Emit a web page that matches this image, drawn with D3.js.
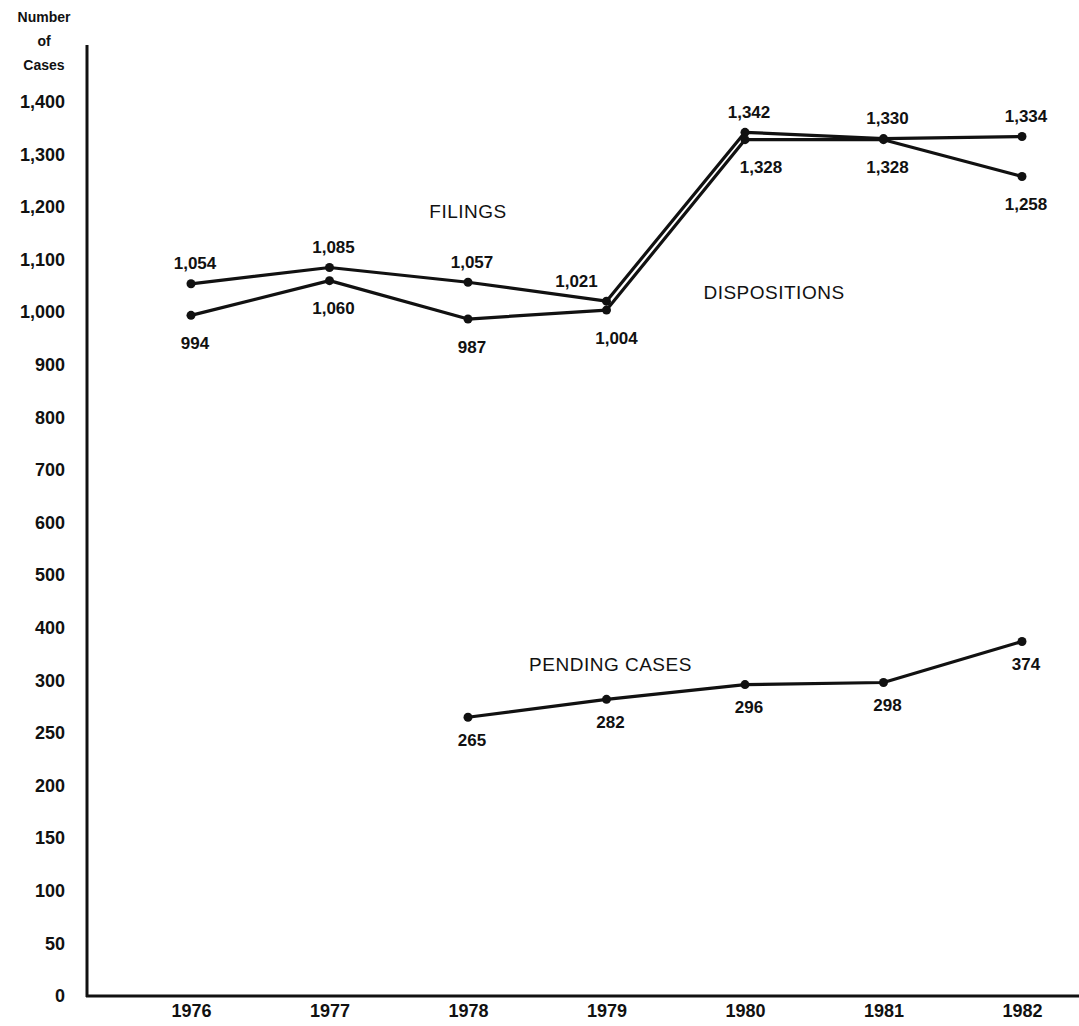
<!DOCTYPE html>
<html>
<head>
<meta charset="utf-8">
<script src="https://cdn.jsdelivr.net/npm/d3@7"></script>
<style>
  body { margin: 0; background: #fff; }
  text { font-family: "Liberation Sans", Arial, sans-serif; fill: #111; }
</style>
</head>
<body>
<div id="chart"></div>
<script>
var years = [1976, 1977, 1978, 1979, 1980, 1981, 1982];
var filings = [1054, 1085, 1057, 1021, 1342, 1330, 1334];
var dispositions = [994, 1060, 987, 1004, 1328, 1328, 1258];
var pendingYears = [1978, 1979, 1980, 1981, 1982];
var pending = [265, 282, 296, 298, 374];
var yTicks = [0, 50, 100, 150, 200, 250, 300, 400, 500, 600, 700, 800, 900, 1000, 1100, 1200, 1300, 1400];

var width = 1079, height = 1026;

var svg = d3.select("#chart").append("svg")
    .attr("width", width)
    .attr("height", height);

var x = d3.scalePoint()
    .domain(years)
    .range([191, 1022]);

// axis is broken: 0-300 by 50, then 300-1400 by 100, same spacing
var y = d3.scaleLinear()
    .domain([0, 300, 1400])
    .range([996, 680.4, 101.8]);

var fmt = d3.format(",");

// y axis
var yAxis = svg.append("g")
    .attr("transform", "translate(87,0)")
    .call(d3.axisLeft(y).tickValues(yTicks).tickSize(0).tickPadding(22).tickFormat(fmt));
yAxis.select(".domain").remove();
yAxis.selectAll("text")
    .style("font-size", "18px")
    .style("font-weight", "bold")
    .style("font-family", "'Liberation Sans', Arial, sans-serif");

// x axis
var xAxis = svg.append("g")
    .attr("transform", "translate(0," + y(0) + ")")
    .call(d3.axisBottom(x).tickSize(0).tickPadding(8).tickFormat(d3.format("d")));
xAxis.select(".domain").remove();
xAxis.selectAll("text")
    .style("font-size", "18px")
    .style("font-weight", "bold")
    .style("font-family", "'Liberation Sans', Arial, sans-serif");

// axis lines
svg.append("line")
    .attr("x1", 87).attr("x2", 87)
    .attr("y1", 45).attr("y2", y(0) + 1)
    .attr("stroke", "#111").attr("stroke-width", 3);
svg.append("line")
    .attr("x1", 86).attr("x2", width)
    .attr("y1", y(0)).attr("y2", y(0))
    .attr("stroke", "#111").attr("stroke-width", 3);

// y title
svg.append("text")
    .attr("x", 44).attr("y", 22)
    .attr("text-anchor", "middle")
    .style("font-size", "14px").style("font-weight", "bold")
    .selectAll("tspan")
    .data(["Number", "of", "Cases"])
    .enter().append("tspan")
    .attr("x", 44)
    .attr("dy", function(d, i) { return i === 0 ? 0 : 24; })
    .text(function(d) { return d; });

var line = d3.line()
    .x(function(d) { return x(d.year); })
    .y(function(d) { return y(d.value); });

function series(yrs, vals, labelDy) {
    var pts = yrs.map(function(yr, i) { return { year: yr, value: vals[i], i: i }; });
    var g = svg.append("g");
    g.append("path")
        .datum(pts)
        .attr("d", line)
        .attr("fill", "none")
        .attr("stroke", "#111")
        .attr("stroke-width", 3.2)
        .attr("stroke-linejoin", "round");
    g.selectAll("circle")
        .data(pts)
        .enter().append("circle")
        .attr("cx", function(d) { return x(d.year); })
        .attr("cy", function(d) { return y(d.value); })
        .attr("r", 4.5)
        .attr("fill", "#111");
    g.selectAll("text.val")
        .data(pts)
        .enter().append("text")
        .attr("class", "val")
        .attr("x", function(d) {
            // shift away from the steep 1979-1980 jump
            var next = vals[d.i + 1], prev = vals[d.i - 1];
            if (labelDy < 0 && next !== undefined && next - d.value > 200) return x(d.year) - 30;
            if (labelDy > 0 && prev !== undefined && d.value - prev > 200) return x(d.year) + 16;
            if (labelDy > 0 && next !== undefined && next - d.value > 200) return x(d.year) + 10;
            return x(d.year) + 4;
        })
        .attr("y", function(d) { return y(d.value) + labelDy; })
        .attr("text-anchor", "middle")
        .attr("dominant-baseline", "central")
        .style("font-size", "17px")
        .style("font-weight", "bold")
        .text(function(d) { return fmt(d.value); });
}

series(years, filings, -20);
series(years, dispositions, 28);
series(pendingYears, pending, 23);

// series names
var names = [
    { text: "FILINGS", year: 1978, value: 1192, dx: 0 },
    { text: "DISPOSITIONS", year: 1980, value: 1038, dx: 29 },
    { text: "PENDING CASES", year: 1979, value: 330, dx: 4 }
];
svg.selectAll("text.name")
    .data(names)
    .enter().append("text")
    .attr("class", "name")
    .attr("x", function(d) { return x(d.year) + d.dx; })
    .attr("y", function(d) { return y(d.value); })
    .attr("text-anchor", "middle")
    .attr("dominant-baseline", "central")
    .style("font-size", "19px")
    .style("letter-spacing", "0.5px")
    .text(function(d) { return d.text; });
</script>
</body>
</html>
